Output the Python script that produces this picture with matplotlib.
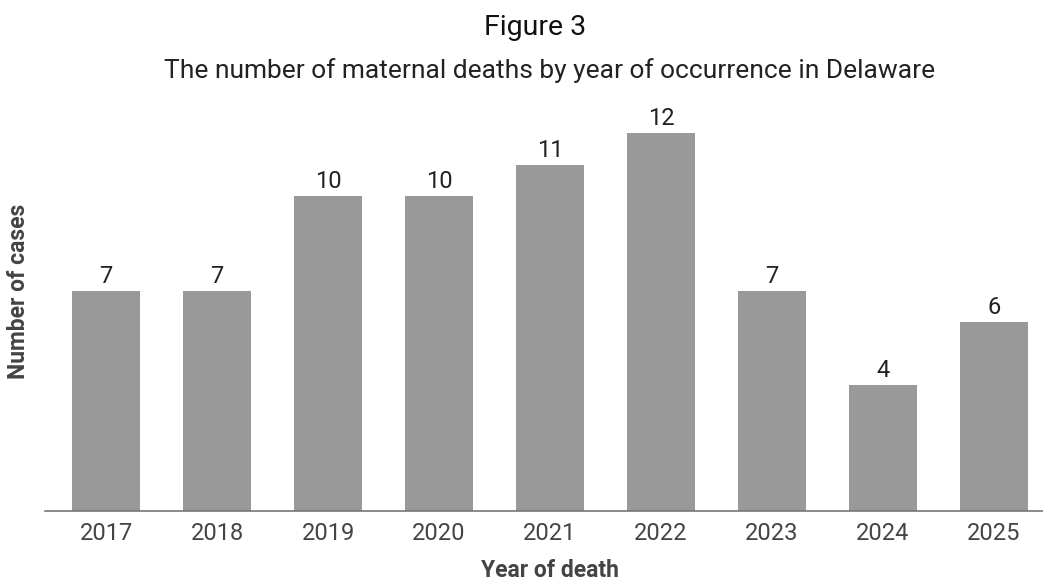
import matplotlib.pyplot as plt

years = ["2017", "2018", "2019", "2020", "2021", "2022", "2023", "2024", "2025"]
deaths = [7, 7, 10, 10, 11, 12, 7, 4, 6]

plt.rcParams['font.family'] = ['Roboto', 'DejaVu Sans']

W, H = 1043, 580
fig = plt.figure(figsize=(W / 100, H / 100), dpi=100)
# plot area runs slightly past the right edge of the canvas
ax = fig.add_axes([45 / W, 69 / H, 1010 / W, 441 / H])

x = list(range(len(years)))
ax.bar(x, deaths, width=0.61, color='#999999', zorder=2)

for xi, v in zip(x, deaths):
    ax.annotate(str(v), (xi, v), xytext=(0, 5.5), textcoords='offset points',
                ha='center', va='baseline', fontsize=17, color='#222222')

ax.set_xlim(-0.55, 8.55)
ax.set_ylim(0, 14)
ax.set_xticks(x)
ax.set_xticklabels(years, fontsize=17, color='#444444')
ax.tick_params(axis='x', length=0, pad=8)
ax.set_yticks([])
for s in ['top', 'right', 'left']:
    ax.spines[s].set_visible(False)
ax.spines['bottom'].set_color('#777777')
ax.spines['bottom'].set_linewidth(1.2)

fig.text(550 / W, 1 - 577 / H, "Year of death", fontsize=16.5, fontweight='bold',
         color='#444444', ha='center', va='baseline')
fig.text(19 / W, 1 - 291 / H, "Number of cases", rotation=90, fontsize=16.5,
         fontweight='bold', color='#444444', ha='center', va='center')

fig.text(535 / W, 1 - 35 / H, "Figure 3", fontsize=20.5, color='#111111',
         ha='center', va='baseline')
fig.text(550 / W, 1 - 78 / H,
         "The number of maternal deaths by year of occurrence in Delaware",
         fontsize=19, color='#222222', ha='center', va='baseline')

fig.savefig("out.png", dpi=100)
